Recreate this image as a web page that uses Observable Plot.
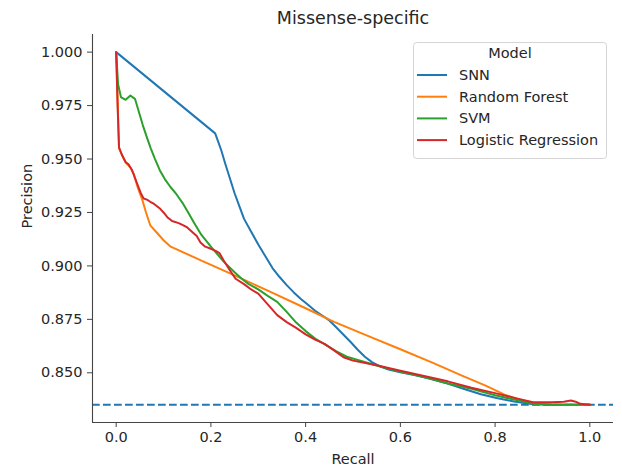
<!DOCTYPE html>
<html>
<head>
<meta charset="utf-8">
<script src="https://cdn.jsdelivr.net/npm/d3@7"></script>
<script src="https://cdn.jsdelivr.net/npm/@observablehq/plot@0.6"></script>
<style>
  html, body { margin: 0; padding: 0; background: #fff; }
  #chart { position: relative; width: 622px; height: 469px; }
</style>
</head>
<body>
<div id="chart"></div>
<script>
// ---- Data ----
const title = "Missense-specific";
const xLabel = "Recall";
const yLabel = "Precision";
const legendTitle = "Model";
const models = ["SNN", "Random Forest", "SVM", "Logistic Regression"];
const modelColors = ["#1f77b4", "#ff7f0e", "#2ca02c", "#d62728"];
const baseline = 0.835;
const xTicks = [0, 0.2, 0.4, 0.6, 0.8, 1.0];
const yTicks = [0.850, 0.875, 0.900, 0.925, 0.950, 0.975, 1.000];

const snnRecall    = [0, 0.209, 0.214, 0.222, 0.23, 0.24, 0.25, 0.26, 0.27, 0.285, 0.30, 0.315, 0.33, 0.345, 0.36, 0.375, 0.39, 0.405, 0.42, 0.435, 0.45, 0.465, 0.48, 0.495, 0.51, 0.525, 0.54, 0.555, 0.575, 0.60, 0.63, 0.663, 0.70, 0.733, 0.77, 0.803, 0.84, 0.88, 0.92, 0.96, 1.0];
const snnPrecision = [1.0, 0.962, 0.959, 0.954, 0.948, 0.941, 0.934, 0.928, 0.922, 0.916, 0.910, 0.9045, 0.899, 0.8948, 0.891, 0.8876, 0.8845, 0.8818, 0.879, 0.8768, 0.8745, 0.8712, 0.8678, 0.8644, 0.8608, 0.8575, 0.855, 0.8532, 0.8515, 0.8502, 0.849, 0.8472, 0.845, 0.8425, 0.840, 0.8382, 0.8366, 0.8353, 0.835, 0.835, 0.835];

const rfRecall    = [0, 0.006, 0.012, 0.02, 0.03, 0.037, 0.045, 0.055, 0.063, 0.072, 0.086, 0.10, 0.115, 0.18, 0.25, 0.32, 0.40, 0.46, 0.53, 0.60, 0.67, 0.73, 0.78, 0.82, 0.85, 0.88, 0.92, 0.96, 1.0];
const rfPrecision = [1.0, 0.955, 0.952, 0.9485, 0.946, 0.943, 0.937, 0.931, 0.925, 0.919, 0.9155, 0.912, 0.909, 0.9025, 0.8956, 0.8884, 0.8802, 0.8738, 0.8674, 0.861, 0.8545, 0.8487, 0.844, 0.8398, 0.8375, 0.836, 0.8352, 0.835, 0.835];

const svmRecall    = [0, 0.004, 0.01, 0.02, 0.03, 0.04, 0.048, 0.056, 0.065, 0.073, 0.082, 0.092, 0.103, 0.115, 0.128, 0.14, 0.152, 0.165, 0.18, 0.20, 0.227, 0.25, 0.265, 0.28, 0.30, 0.32, 0.34, 0.36, 0.38, 0.40, 0.42, 0.445, 0.465, 0.487, 0.51, 0.55, 0.60, 0.65, 0.70, 0.75, 0.80, 0.85, 0.88, 0.92, 0.96, 1.0];
const svmPrecision = [1.0, 0.985, 0.979, 0.9777, 0.9797, 0.978, 0.972, 0.966, 0.960, 0.955, 0.950, 0.9448, 0.9405, 0.9368, 0.9333, 0.9295, 0.925, 0.920, 0.9145, 0.909, 0.902, 0.897, 0.894, 0.8915, 0.889, 0.886, 0.8832, 0.8785, 0.8735, 0.8695, 0.866, 0.8627, 0.860, 0.8575, 0.856, 0.8534, 0.8505, 0.848, 0.845, 0.8425, 0.8395, 0.837, 0.8355, 0.835, 0.835, 0.835];

const lrRecall    = [0, 0.003, 0.006, 0.012, 0.02, 0.026, 0.033, 0.04, 0.046, 0.052, 0.058, 0.065, 0.072, 0.08, 0.093, 0.10, 0.108, 0.118, 0.132, 0.142, 0.15, 0.16, 0.17, 0.178, 0.188, 0.20, 0.21, 0.218, 0.227, 0.24, 0.252, 0.27, 0.285, 0.30, 0.32, 0.34, 0.36, 0.38, 0.40, 0.42, 0.44, 0.46, 0.48, 0.50, 0.55, 0.60, 0.65, 0.70, 0.75, 0.80, 0.85, 0.88, 0.92, 0.945, 0.96, 0.97, 0.98, 1.0];
const lrPrecision = [1.0, 0.975, 0.9555, 0.952, 0.9485, 0.9475, 0.945, 0.941, 0.9375, 0.934, 0.9315, 0.931, 0.930, 0.929, 0.9267, 0.925, 0.9228, 0.921, 0.920, 0.919, 0.918, 0.916, 0.914, 0.911, 0.909, 0.908, 0.907, 0.906, 0.9025, 0.898, 0.894, 0.8915, 0.889, 0.887, 0.882, 0.877, 0.8737, 0.871, 0.868, 0.8655, 0.8635, 0.8605, 0.8573, 0.8557, 0.8535, 0.851, 0.8485, 0.846, 0.843, 0.8405, 0.8378, 0.8362, 0.8362, 0.8365, 0.837, 0.8365, 0.8355, 0.835];

const seriesRecall = [snnRecall, rfRecall, svmRecall, lrRecall];
const seriesPrecision = [snnPrecision, rfPrecision, svmPrecision, lrPrecision];

const rows = models.flatMap((m, i) =>
  seriesRecall[i].map((r, j) => ({model: m, recall: r, precision: seriesPrecision[i][j]}))
);

const ink = "#262626";
const font = "DejaVu Sans, sans-serif";
const xDomain = [-0.05, 1.05];
const yDomain = [0.82675, 1.00825];

const plot = Plot.plot({
  width: 622,
  height: 469,
  marginLeft: 92,
  marginRight: 9,
  marginTop: 34,
  marginBottom: 47,
  style: {fontFamily: font, fontSize: "14.5px", color: ink, background: "white", overflow: "visible"},
  x: {domain: xDomain, label: null},
  y: {domain: yDomain, label: null},
  color: {domain: models, range: modelColors},
  marks: [
    Plot.ruleY([baseline], {stroke: modelColors[0], strokeWidth: 2, strokeDasharray: "7.7,3.3"}),
    Plot.line(rows, {x: "recall", y: "precision", z: "model", stroke: "model", strokeWidth: 2, strokeLinejoin: "round"}),
    Plot.ruleX([xDomain[0]], {stroke: "#444", strokeWidth: 1.1}),
    Plot.ruleY([yDomain[0]], {stroke: "#444", strokeWidth: 1.1}),
    Plot.axisX({ticks: xTicks, tickFormat: d3.format(".1f"), tickSize: 5, tickPadding: 4, fontSize: 14.5, label: null, color: ink, stroke: "#444"}),
    Plot.axisY({ticks: yTicks, tickFormat: d3.format(".3f"), tickSize: 5, tickPadding: 5, fontSize: 14.5, label: null, color: ink, stroke: "#444"}),
    Plot.text([xLabel], {text: d => d, frameAnchor: "bottom", lineAnchor: "middle", dy: 37, fontSize: 14.5, fill: ink}),
    Plot.text([yLabel], {text: d => d, frameAnchor: "left", lineAnchor: "middle", dx: -65, rotate: -90, fontSize: 14.5, fill: ink}),
    Plot.text([title], {text: d => d, frameAnchor: "top", lineAnchor: "middle", dy: -16, fontSize: 17.5, fill: ink})
  ]
});

document.getElementById("chart").appendChild(plot);

// ---- Legend (inside the SVG, upper right) ----
const svg = d3.select(plot);
const lg = svg.append("g").attr("transform", "translate(413,42)").attr("font-family", font);
lg.append("rect")
  .attr("x", 0.5).attr("y", 0.5).attr("width", 193).attr("height", 116)
  .attr("rx", 3).attr("fill", "white").attr("fill-opacity", 0.8)
  .attr("stroke", "#d5d5d5").attr("stroke-width", 1);
lg.append("text").text(legendTitle)
  .attr("x", 97).attr("y", 11).attr("dy", "0.35em")
  .attr("text-anchor", "middle").attr("font-size", 14.5).attr("fill", ink);
models.forEach((m, i) => {
  const y = 33 + i * 21.7;
  lg.append("line").attr("x1", 4).attr("x2", 34).attr("y1", y).attr("y2", y)
    .attr("stroke", modelColors[i]).attr("stroke-width", 2);
  lg.append("text").text(m).attr("x", 46).attr("y", y).attr("dy", "0.35em")
    .attr("text-anchor", "start").attr("font-size", 14.5).attr("fill", ink);
});
</script>
</body>
</html>
